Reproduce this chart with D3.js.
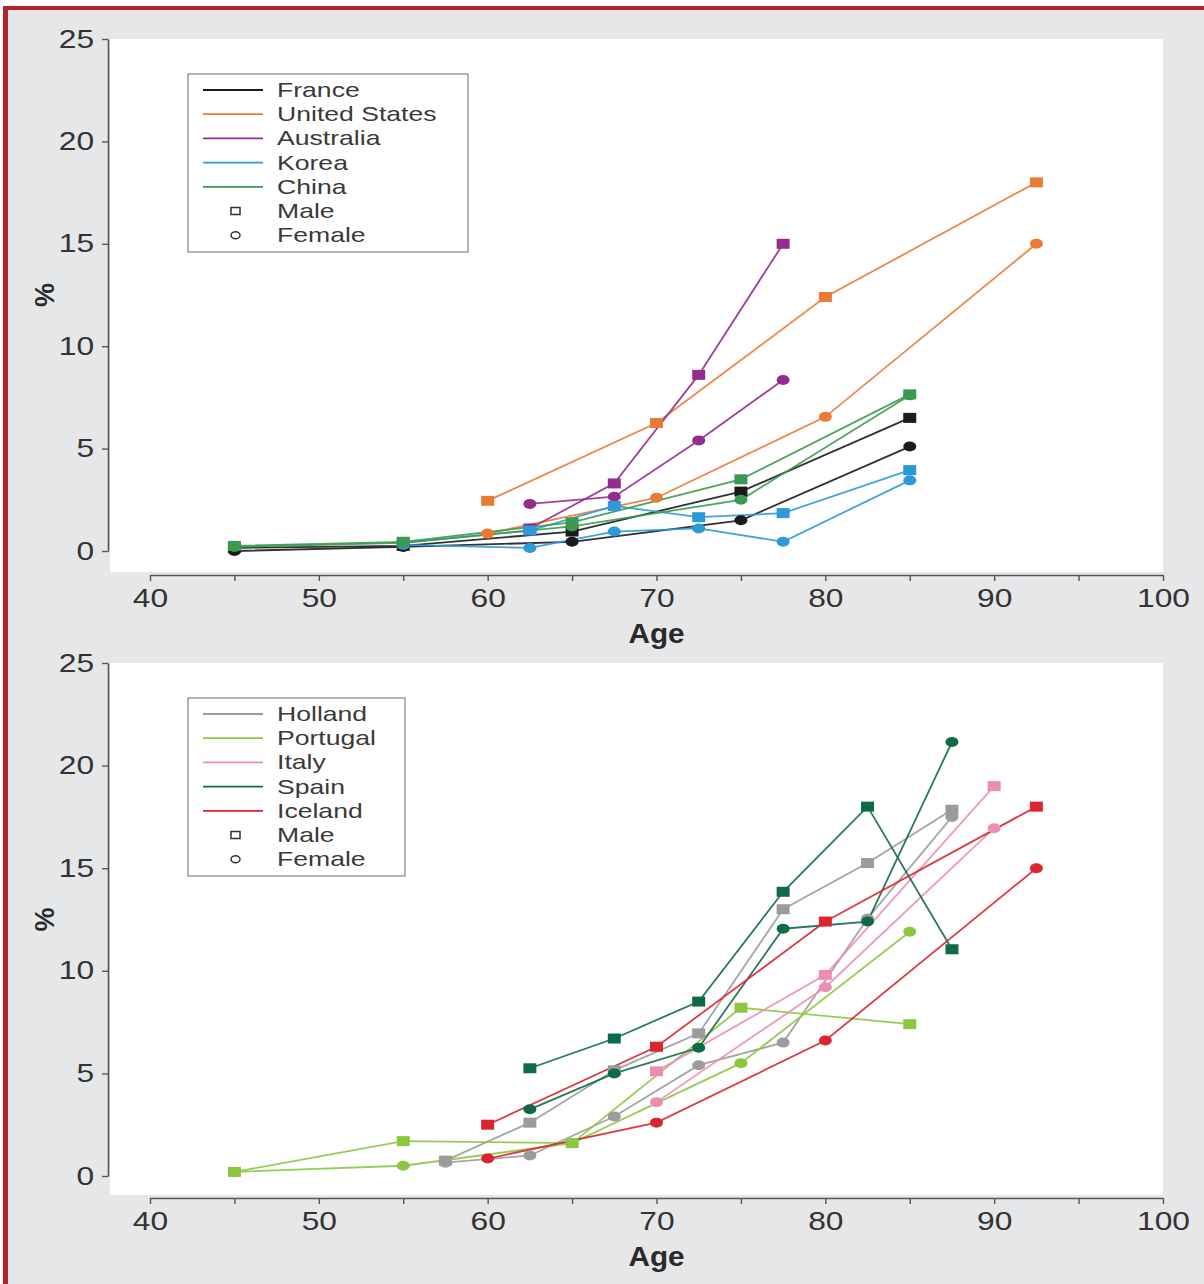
<!DOCTYPE html>
<html>
<head>
<meta charset="utf-8">
<script src="https://cdn.jsdelivr.net/npm/d3@7"></script>
<style>
  html, body { margin: 0; padding: 0; background: #fff; }
  svg { display: block; }
</style>
</head>
<body>
<div id="chart"></div>
<script>
// Prevalence (%) by age, two panels, male = square, female = circle

// axis ticks
const xTicks = [40, 50, 60, 70, 80, 90, 100]
const xMinorTicks = [45, 55, 65, 75, 85, 95]
const yTicks = [0, 5, 10, 15, 20, 25]

// top panel countries
const topCountries = ['France', 'United States', 'Australia', 'Korea', 'China']
const topColors = ['#1b1b1b', '#ea7a34', '#952b8f', '#2c9ad6', '#3b9a4f']

const franceAge = [45, 55, 65, 75, 85]
const franceMale = [0.15, 0.25, 0.95, 2.9, 6.5]
const franceFemale = [0.0, 0.2, 0.45, 1.5, 5.1]

const usAge = [60, 70, 80, 92.5]
const usMale = [2.45, 6.25, 12.4, 18.0]
const usFemale = [0.85, 2.6, 6.55, 15.0]

const australiaAge = [62.5, 67.5, 72.5, 77.5]
const australiaMale = [1.1, 3.3, 8.6, 15.0]
const australiaFemale = [2.3, 2.65, 5.4, 8.35]

const koreaAge = [55, 62.5, 67.5, 72.5, 77.5, 85]
const koreaMale = [0.4, 1.0, 2.2, 1.65, 1.85, 3.95]
const koreaFemale = [0.3, 0.15, 0.95, 1.1, 0.45, 3.45]

const chinaAge = [45, 55, 65, 75, 85]
const chinaMale = [0.25, 0.45, 1.4, 3.5, 7.65]
const chinaFemale = [0.2, 0.4, 1.2, 2.5, 7.6]

// bottom panel countries
const bottomCountries = ['Holland', 'Portugal', 'Italy', 'Spain', 'Iceland']
const bottomColors = ['#9b9b9b', '#8dc641', '#ec8db4', '#0f6b45', '#d9262f']

const hollandAge = [57.5, 62.5, 67.5, 72.5, 77.5, 82.5, 87.5]
const hollandMale = [0.75, 2.6, 5.15, 6.95, 13.0, 15.25, 17.85]
const hollandFemale = [0.65, 1.0, 2.9, 5.4, 6.5, 12.55, 17.5]

const portugalAge = [45, 55, 65, 75, 85]
const portugalMale = [0.2, 1.7, 1.6, 8.2, 7.4]
const portugalFemale = [0.2, 0.5, 1.6, 5.5, 11.9]

const italyAge = [70, 80, 90]
const italyMale = [5.1, 9.8, 19.0]
const italyFemale = [3.6, 9.2, 16.95]

const spainAge = [62.5, 67.5, 72.5, 77.5, 82.5, 87.5]
const spainMale = [5.25, 6.7, 8.5, 13.85, 18.0, 11.05]
const spainFemale = [3.25, 5.0, 6.25, 12.05, 12.4, 21.15]

const icelandAge = [60, 70, 80, 92.5]
const icelandMale = [2.5, 6.3, 12.4, 18.0]
const icelandFemale = [0.85, 2.6, 6.6, 15.0]

const sexes = ['Male', 'Female']

// build series tables from the arrays above
const series = (country, ages, male, female) => [
    { country, sex: 'Male', points: ages.map((a, i) => ({ age: a, value: male[i] })) },
    { country, sex: 'Female', points: ages.map((a, i) => ({ age: a, value: female[i] })) }
]

const topSeries = [
    ...series('France', franceAge, franceMale, franceFemale),
    ...series('United States', usAge, usMale, usFemale),
    ...series('Australia', australiaAge, australiaMale, australiaFemale),
    ...series('Korea', koreaAge, koreaMale, koreaFemale),
    ...series('China', chinaAge, chinaMale, chinaFemale)
]

const bottomSeries = [
    ...series('Holland', hollandAge, hollandMale, hollandFemale),
    ...series('Portugal', portugalAge, portugalMale, portugalFemale),
    ...series('Italy', italyAge, italyMale, italyFemale),
    ...series('Spain', spainAge, spainMale, spainFemale),
    ...series('Iceland', icelandAge, icelandMale, icelandFemale)
]

const W = 1204, H = 1284
const STRETCH = 1.27   // the source text is a bit wide
const font = '"Liberation Sans", Arial, sans-serif'

const svg = d3.select('#chart')
    .append('svg')
    .attr('width', W)
    .attr('height', H)

// frame: grey page with a red rule top and left
svg.append('rect').attr('x', 0).attr('y', 0).attr('width', W).attr('height', H).attr('fill', '#fff')
svg.append('rect').attr('x', 8).attr('y', 9).attr('width', W - 8).attr('height', H - 9).attr('fill', '#e6e7e9')
svg.append('rect').attr('x', 3).attr('y', 6).attr('width', W - 3).attr('height', 4).attr('fill', '#b3232c')
svg.append('rect').attr('x', 3).attr('y', 6).attr('width', 5).attr('height', H - 6).attr('fill', '#b3232c')

function drawPanel(opts) {
    const { data, countries, colors, y0, y25, axisY, legendY, legendW } = opts

    const x = d3.scaleLinear().domain([40, 100]).range([150, 1163])
    const y = d3.scaleLinear().domain([0, 25]).range([y0, y25])
    const color = d3.scaleOrdinal().domain(countries).range(colors)

    const g = svg.append('g')

    // white plotting area
    g.append('rect')
        .attr('x', 110)
        .attr('y', y25)
        .attr('width', 1163 - 110)
        .attr('height', axisY - 3 - y25)
        .attr('fill', '#fff')

    // y axis
    const yAxis = g.append('g')
        .attr('transform', 'translate(108,0)')
        .call(d3.axisLeft(y).tickValues(yTicks).tickSize(6).tickSizeOuter(0).tickPadding(5))
    yAxis.select('.domain').attr('stroke', '#555').attr('stroke-width', 1.6)
    yAxis.selectAll('.tick line').attr('stroke', '#555').attr('stroke-width', 1.4)
    yAxis.selectAll('.tick text')
        .attr('font-family', font)
        .attr('font-size', 25)
        .attr('fill', '#333')
        .attr('transform', `scale(${STRETCH},1)`)

    // x axis, majors labelled, minors plain ticks
    const xAxis = g.append('g')
        .attr('transform', `translate(0,${axisY})`)
        .call(d3.axisBottom(x)
            .tickValues(xTicks.concat(xMinorTicks).sort((a, b) => a - b))
            .tickFormat(d => xTicks.includes(d) ? d : '')
            .tickSize(6).tickSizeOuter(0).tickPadding(8))
    xAxis.select('.domain').attr('stroke', '#555').attr('stroke-width', 1.6)
    xAxis.selectAll('.tick line').attr('stroke', '#555').attr('stroke-width', 1.4)
    xAxis.selectAll('.tick text')
        .attr('font-family', font)
        .attr('font-size', 25)
        .attr('fill', '#333')
        .attr('transform', `scale(${STRETCH},1)`)

    // axis titles
    g.append('text')
        .attr('transform', `translate(${x(70)},${axisY + 68}) scale(1.1,1)`)
        .attr('text-anchor', 'middle')
        .attr('font-family', font)
        .attr('font-weight', 'bold')
        .attr('font-size', 27)
        .attr('fill', '#2a2a2a')
        .text('Age')

    g.append('text')
        .attr('transform', `translate(54,${(y0 + y25) / 2}) rotate(-90)`)
        .attr('text-anchor', 'middle')
        .attr('font-family', font)
        .attr('font-weight', 'bold')
        .attr('font-size', 27)
        .attr('fill', '#2a2a2a')
        .text('%')

    // lines
    const line = d3.line().x(d => x(d.age)).y(d => y(d.value))
    g.selectAll('.series')
        .data(data)
        .join('path')
        .attr('d', d => line(d.points))
        .attr('fill', 'none')
        .attr('stroke', d => color(d.country))
        .attr('stroke-opacity', 0.9)
        .attr('stroke-width', 1.8)

    // markers
    data.forEach(s => {
        const c = color(s.country)
        if (s.sex === 'Male') {
            g.selectAll(null)
                .data(s.points)
                .join('rect')
                .attr('x', d => x(d.age) - 6.5)
                .attr('y', d => y(d.value) - 5)
                .attr('width', 13)
                .attr('height', 10)
                .attr('fill', c)
        } else {
            g.selectAll(null)
                .data(s.points)
                .join('ellipse')
                .attr('cx', d => x(d.age))
                .attr('cy', d => y(d.value))
                .attr('rx', 6.5)
                .attr('ry', 5)
                .attr('fill', c)
        }
    })

    // legend
    const rowH = 24.2
    const lg = g.append('g')
    lg.append('rect')
        .attr('x', 188)
        .attr('y', legendY)
        .attr('width', legendW)
        .attr('height', 178)
        .attr('fill', '#fff')
        .attr('stroke', '#8a8a8a')
        .attr('stroke-width', 1.3)

    const labels = countries.concat(sexes)
    labels.forEach((lab, i) => {
        const ry = legendY + 16 + i * rowH
        if (i < countries.length) {
            lg.append('line')
                .attr('x1', 203).attr('x2', 263)
                .attr('y1', ry).attr('y2', ry)
                .attr('stroke', color(lab))
                .attr('stroke-width', 1.8)
        } else if (lab === 'Male') {
            lg.append('rect')
                .attr('x', 231).attr('y', ry - 3.5)
                .attr('width', 9).attr('height', 7)
                .attr('fill', 'none')
                .attr('stroke', '#333')
                .attr('stroke-width', 1.5)
        } else {
            lg.append('ellipse')
                .attr('cx', 235.5).attr('cy', ry)
                .attr('rx', 4.5).attr('ry', 3.5)
                .attr('fill', 'none')
                .attr('stroke', '#333')
                .attr('stroke-width', 1.5)
        }
        lg.append('text')
            .attr('transform', `translate(277,${ry}) scale(1.33,1)`)
            .attr('dy', '0.35em')
            .attr('font-family', font)
            .attr('font-size', 20)
            .attr('fill', '#3a3a3a')
            .text(lab)
    })
}

drawPanel({
    data: topSeries,
    countries: topCountries,
    colors: topColors,
    y0: 551, y25: 39, axisY: 575,
    legendY: 74, legendW: 280
})

drawPanel({
    data: bottomSeries,
    countries: bottomCountries,
    colors: bottomColors,
    y0: 1176, y25: 663, axisY: 1198,
    legendY: 698, legendW: 217
})
</script>
</body>
</html>
